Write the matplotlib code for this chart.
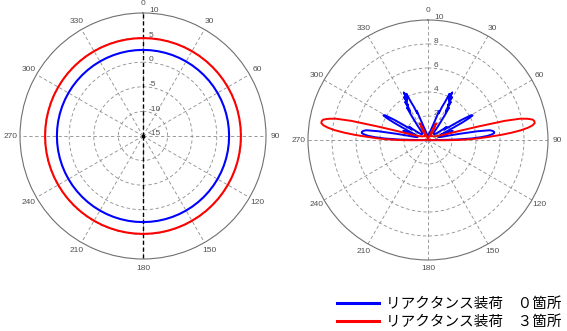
import numpy as np
import matplotlib
matplotlib.use("Agg")
import matplotlib.pyplot as plt
from matplotlib.lines import Line2D
from matplotlib.font_manager import FontProperties

# ---- data ----
angle_ticks = [0, 30, 60, 90, 120, 150, 180, 210, 240, 270, 300, 330]

# left plot (dB scale, -15 .. 10)
left_rings = [-15, -10, -5, 0, 5, 10]
circle_deg = list(range(0, 361, 5))
left_blue_r = [2.5] * len(circle_deg)
left_red_r = [4.9] * len(circle_deg)

# right plot (linear, 0 .. 10); negative angles are west of north
right_rings = [0, 2, 4, 6, 8, 10]

red_deg = [-100, -94, -92, -91, -90, -89, -88, -87, -86, -85, -84, -83, -82,
           -81, -80, -79, -78, -77, -76, -75, -74, -73, -72, -70, -66, -60,
           -50, -40, -32, -29, -26, -23, -20, -10, 0,
           10, 20, 23, 26, 29, 32, 40, 50, 60, 66, 70, 72, 73, 74, 75, 76,
           77, 78, 79, 80, 81, 82, 83, 84, 85, 86, 87, 88, 89, 90, 91, 92,
           94, 100]
red_r = [0.0, 0.1, 0.5, 1.3, 2.5, 3.5, 4.3, 5.1, 6.1, 7.0, 7.8, 8.4, 8.8,
         9.0, 9.0, 8.9, 8.5, 7.9, 6.6, 4.4, 2.9, 2.0, 1.5, 1.1, 0.8, 0.6,
         0.5, 0.4, 0.4, 0.8, 1.55, 0.8, 0.4, 0.2, 0.1,
         0.2, 0.4, 0.8, 1.55, 0.8, 0.4, 0.4, 0.5, 0.6, 0.8, 1.1, 1.5, 2.0,
         2.9, 4.4, 6.6, 7.9, 8.5, 8.9, 9.0, 9.0, 8.8, 8.4, 7.8, 7.0, 6.1,
         5.1, 4.3, 3.5, 2.5, 1.3, 0.5, 0.1, 0.0]

blue_deg = [-98, -94, -92, -90, -89, -88, -87, -86, -85, -84, -83, -82, -81,
            -80, -79, -78, -77, -75, -73, -71, -70, -69, -68, -66, -64, -63,
            -62, -61, -60, -59, -58, -57, -55, -54, -52, -48, -44, -40, -38,
            -36, -34, -33, -32, -31, -30, -29, -28, -27, -26, -25, -24, -23,
            -22, -21, -20, -19, -17, -14, -10, -5, 0,
            5, 10, 14, 17, 19, 20, 21, 22, 23, 24, 25, 26, 27, 28, 29, 30,
            31, 32, 33, 34, 36, 38, 40, 44, 48, 52, 54, 55, 57, 58, 59, 60,
            61, 62, 63, 64, 66, 68, 69, 70, 71, 73, 75, 77, 78, 79, 80, 81,
            82, 83, 84, 85, 86, 87, 88, 89, 90, 92, 94, 98]
blue_r = [0.0, 0.1, 0.3, 1.0, 2.4, 3.6, 4.4, 5.0, 5.35, 5.55, 5.55, 5.45,
          5.2, 4.2, 2.8, 1.8, 1.2, 0.9, 1.0, 1.6, 2.2, 1.5, 1.1, 1.5, 2.4,
          3.2, 3.9, 4.25, 4.1, 3.2, 2.0, 1.6, 1.9, 1.3, 0.9, 0.7, 0.7, 0.7,
          0.8, 1.5, 2.6, 3.2, 2.8, 3.7, 3.3, 4.1, 3.7, 4.45, 3.9, 4.25, 3.4,
          3.0, 2.4, 2.6, 1.8, 1.4, 1.0, 0.7, 0.5, 0.4, 0.4,
          0.4, 0.5, 0.7, 1.0, 1.4, 1.8, 2.6, 2.4, 3.0, 3.4, 4.25, 3.9, 4.45,
          3.7, 4.1, 3.3, 3.7, 2.8, 3.2, 2.6, 1.5, 0.8, 0.7, 0.7, 0.7, 0.9,
          1.3, 1.9, 1.6, 2.0, 3.2, 4.1, 4.25, 3.9, 3.2, 2.4, 1.5, 1.1, 1.5,
          2.2, 1.6, 1.0, 0.9, 1.2, 1.8, 2.8, 4.2, 5.2, 5.45, 5.55, 5.55,
          5.35, 5.0, 4.4, 3.6, 2.4, 1.0, 0.3, 0.1, 0.0]

legend_labels = ["リアクタンス装荷\u3000０箇所", "リアクタンス装荷\u3000３箇所"]

BLUE = "#0000ff"
RED = "#ff0000"
GRID = "#8c8c8c"
LABEL = "#505050"
NUM_FONT = "Liberation Sans"


def setup_polar(ax, rmin, rmax, rings, label_r):
    ax.set_theta_zero_location("N")
    ax.set_theta_direction(-1)
    ax.set_ylim(rmin, rmax)
    ax.set_thetagrids(angle_ticks, labels=[""] * len(angle_ticks))
    ax.set_rgrids(rings[1:-1], labels=[""] * (len(rings) - 2))
    ax.grid(True, color=GRID, linestyle=(0, (4, 3)), linewidth=0.6)
    ax.spines["polar"].set_color("#707070")
    ax.spines["polar"].set_linewidth(0.8)
    ax.tick_params(length=0, pad=0)
    for a in angle_ticks:
        ax.text(np.deg2rad(a), label_r, str(a), ha="center", va="center",
                fontsize=6, color=LABEL, family=NUM_FONT)
    for r in rings:
        ax.annotate(str(r), xy=(0, r), xytext=(4.3, 1.6),
                    textcoords="offset points", ha="left", va="center",
                    fontsize=6, color=LABEL, family=NUM_FONT,
                    annotation_clip=False)


fig = plt.figure(figsize=(5.67, 3.31), dpi=100)

# left: dB pattern
ax1 = fig.add_axes([20 / 567, 1 - 259 / 331, 246 / 567, 246 / 331],
                   projection="polar")
setup_polar(ax1, -15, 10, left_rings, 11.83)
ax1.plot([0, 0], [-15, 10], color="black", linestyle=(0, (3, 2)), lw=1.0)
ax1.plot([np.pi, np.pi], [-15, 10], color="black", linestyle=(0, (3, 2)),
         lw=1.0)
ax1.plot(np.deg2rad(circle_deg), left_red_r, color=RED, lw=1.5)
ax1.plot(np.deg2rad(circle_deg), left_blue_r, color=BLUE, lw=1.5)
ax1.plot([0], [-15], "s", color="black", ms=1.8)

# right: linear pattern
ax2 = fig.add_axes([308 / 567, 1 - 260 / 331, 240 / 567, 240 / 331],
                   projection="polar")
setup_polar(ax2, 0, 10, right_rings, 10.75)
ax2.plot(np.deg2rad(blue_deg), blue_r, color=BLUE, lw=1.4)
ax2.plot(np.deg2rad(red_deg), red_r, color=RED, lw=1.4)

handles = [Line2D([], [], color=BLUE, lw=2.2),
           Line2D([], [], color=RED, lw=2.2)]
fig.legend(handles, legend_labels, loc="lower right",
           bbox_to_anchor=(0.99, 0.006), frameon=False,
           prop=FontProperties(family="Noto Sans CJK JP", size=10.5),
           handlelength=2.9, handletextpad=0.45, labelspacing=0.3,
           borderpad=0, borderaxespad=0)

fig.savefig("out.png", dpi=100, facecolor="white")
